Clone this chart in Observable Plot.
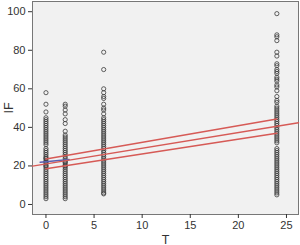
<!DOCTYPE html>
<html><head><meta charset="utf-8">
<script src="https://cdn.jsdelivr.net/npm/d3@7"></script>
<script src="https://cdn.jsdelivr.net/npm/@observablehq/plot@0.6"></script>
<style>body{margin:0;background:#fff;font-family:"Liberation Sans",Arial,sans-serif}</style>
</head><body><div id="chart"></div>
<script>
const groupT = [0, 2, 6, 24];
const if0 = [58,52,48,45,44,43,42,41,40,39,38,37,36,35,34,33,32,31,29,28,27,26,25,24,24,23,22,22,21,20,20,19,18,17,16,15,14,13,12,11,10,9,8,7,6,5,4,3];
const if2 = [52,51,49,47,44,42,38,36,35,34,33,32,31,30,29,28,27,26,25,24,23,22,22,21,20,20,19,18,17,16,15,14,13,12,11,10,9,8,7,6,5,4,3];
const if6 = [79,70,60,58,56,55,52,50,49,47,45,44,43,42,41,40,39,38,37,36,35,34,33,32,31,30,29,28,27,26,25,24,23,22,21,20,19,18,17,16,15,14,13,12,11,10,9,8,7,6,5.5];
const if24 = [99,88,87,85,79,77,73,72,70,69,68,66,65,64,62,61,59,56,54,53,51,50,49,48,47,46,45,44,43,42,41,40,39,38,37,36,35,34,33,32,29,28,27,26,25,24,23,22,21,20,19,18,17,16,15,14,13,12,11,10,9,8,7,6,5];
const fitT = [-1.4, 26.25];
const fitIF = [19.9, 42.4];
const ciT = [0, 24];
const ciUpper = [23.6, 44.4];
const ciLower = [18.5, 36.9];
const blueT = [-0.6, 2.4];
const blueIF = [21.9, 23.3];
const xTicks = [0, 5, 10, 15, 20, 25];
const yTicks = [0, 20, 40, 60, 80, 100];

const points = [];
[if0, if2, if6, if24].forEach((arr, i) => arr.forEach(v => points.push({T: groupT[i], IF: v})));
const toPts = (xs, ys) => xs.map((x, i) => ({T: x, IF: ys[i]}));
const red = "#d65a56";

const chart = Plot.plot({
  width: 300, height: 245,
  marginLeft: 32, marginRight: 2, marginTop: 1, marginBottom: 31,
  style: {fontFamily: "Liberation Sans, Arial, sans-serif", fontSize: "11px", color: "#333", background: "#fff"},
  x: {domain: [-1.4, 26.25]},
  y: {domain: [-5.2, 105.3]},
  marks: [
    Plot.frame({fill: "#f1f1f1", stroke: "#777", strokeWidth: 1}),
    Plot.axisX({ticks: xTicks, tickSize: 4, tickPadding: 3, label: null, fontSize: 11}),
    Plot.axisY({ticks: yTicks, tickSize: 4, tickPadding: 3, label: null, fontSize: 11}),
    Plot.axisX({ticks: [], label: "T", labelAnchor: "center", labelOffset: 29, labelArrow: false, fontSize: 12.5}),
    Plot.axisY({ticks: [], label: "IF", labelAnchor: "center", labelOffset: 28, labelArrow: false, fontSize: 12.5}),
    Plot.dot(points, {x: "T", y: "IF", r: 2.1, stroke: "#3a3a3a", strokeWidth: 0.8, fill: "none"}),
    Plot.line(toPts(blueT, blueIF), {x: "T", y: "IF", stroke: "#5a5fb0", strokeWidth: 1.6}),
    Plot.line(toPts(fitT, fitIF), {x: "T", y: "IF", stroke: red, strokeWidth: 1.5}),
    Plot.line(toPts(ciT, ciUpper), {x: "T", y: "IF", stroke: red, strokeWidth: 1.5}),
    Plot.line(toPts(ciT, ciLower), {x: "T", y: "IF", stroke: red, strokeWidth: 1.5})
  ]
});
document.getElementById("chart").appendChild(chart);
</script>
</body></html>
